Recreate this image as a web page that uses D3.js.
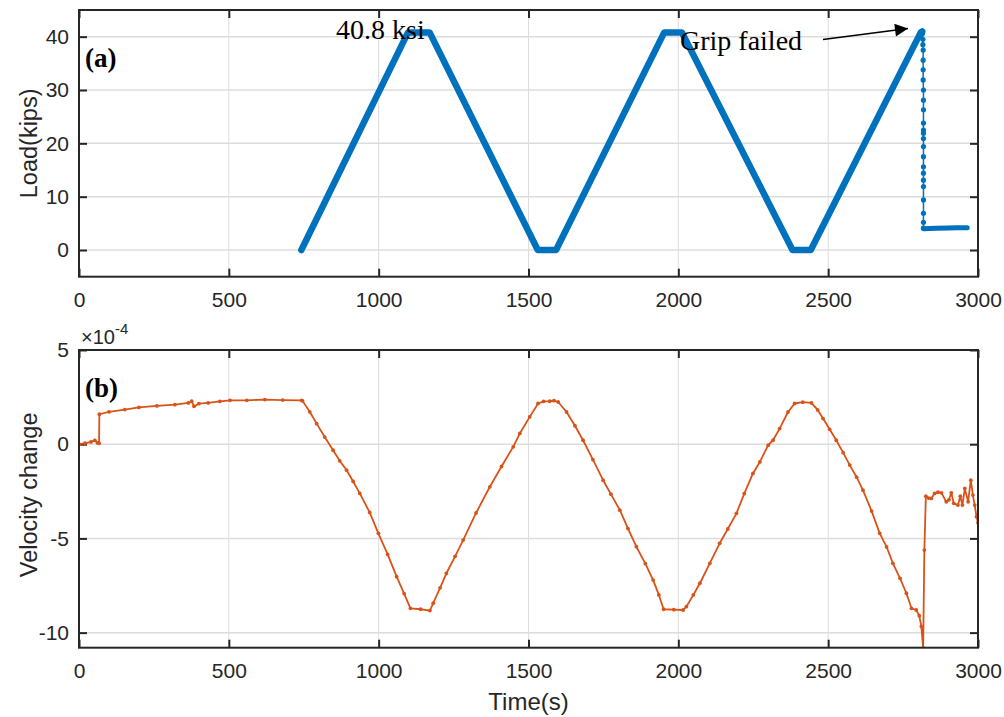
<!DOCTYPE html>
<html>
<head>
<meta charset="utf-8">
<script src="https://cdn.jsdelivr.net/npm/d3@7"></script>
<style>
  body { margin: 0; background: #fff; }
  svg text { fill: #262626; }
  .tick text { font-family: "Liberation Sans", Arial, sans-serif; font-size: 21px; fill: #262626; }
</style>
</head>
<body>
<div id="wrapper"></div>
<script>
// (a) load record: ramp part, the vertical drop at grip failure, and the tail
const loadTime  = [742, 1098, 1170, 1531, 1592, 1953, 2012, 2381, 2442, 2809, 2814]
const loadKips  = [0, 40.8, 40.8, 0, 0, 40.8, 40.8, 0, 0, 40.8, 41.0]
const dropTime  = [2815, 2816, 2816, 2817, 2817, 2817, 2817, 2818, 2818, 2818, 2818, 2818, 2818, 2818, 2818, 2818, 2818, 2818, 2818, 2818, 2818, 2818, 2818, 2818]
const dropKips  = [40.6, 39.5, 38.5, 37.5, 35.6, 33.8, 31.9, 30.0, 28.1, 26.3, 23.8, 22.5, 21.9, 20.9, 19.4, 17.5, 15.6, 14.4, 13.1, 11.9, 9.4, 6.9, 5.2, 4.1]
const tailTime  = [2818, 2860, 2900, 2930, 2964]
const tailKips  = [4.0, 4.1, 4.15, 4.2, 4.2]

// (b) velocity change, x 1e-4
const velTime = [0, 20, 40, 53, 62, 67, 68, 100, 153, 200, 260, 320, 365, 376, 384, 400, 431, 470, 504, 560, 620, 680, 743,
  746, 770, 793, 820, 848, 870, 893, 915, 937, 970, 999, 1030, 1060, 1085, 1106, 1140, 1171, 1182, 1205, 1226, 1255, 1282, 1325, 1371, 1410, 1449, 1471, 1504,
  1532, 1550, 1571, 1585, 1599, 1627, 1655, 1682, 1715, 1749, 1775, 1805, 1832, 1860, 1890, 1916, 1935, 1951, 1985, 2016, 2027, 2050, 2072, 2105, 2138, 2165, 2194, 2220, 2249, 2272, 2300,
  2316, 2338, 2366, 2388, 2415, 2444, 2465, 2483, 2505, 2527, 2550, 2572, 2595, 2616, 2645, 2672, 2695, 2716, 2740, 2761, 2778, 2794, 2804, 2811, 2817,
  2821, 2826, 2835, 2844, 2855, 2866, 2878, 2894, 2903, 2911, 2919, 2933, 2941, 2948, 2956, 2967, 2976, 2983, 2989, 2995, 3000]
const velChange = [0, 0.05, 0.12, 0.2, 0.07, 0.05, 1.59, 1.72, 1.84, 1.95, 2.03, 2.1, 2.19, 2.28, 2.01, 2.15, 2.19, 2.27, 2.33, 2.33, 2.37, 2.34, 2.33,
  2.30, 1.72, 1.09, 0.38, -0.32, -0.88, -1.38, -1.98, -2.61, -3.62, -4.73, -5.85, -7.03, -7.93, -8.71, -8.76, -8.83, -8.44, -7.62, -6.85, -5.95, -5.09, -3.65, -2.26, -1.18, -0.14, 0.57, 1.45,
  2.16, 2.27, 2.28, 2.31, 2.24, 1.71, 0.98, 0.21, -0.82, -1.91, -2.65, -3.50, -4.48, -5.44, -6.34, -7.21, -8.0, -8.76, -8.78, -8.80, -8.62, -8.0, -7.38, -6.32, -5.26, -4.5, -3.67, -2.62, -1.55, -0.94, -0.05,
  0.21, 0.83, 1.71, 2.16, 2.23, 2.19, 1.82, 1.36, 0.79, 0.21, -0.45, -1.11, -1.75, -2.44, -3.55, -4.73, -5.45, -6.32, -7.12, -7.91, -8.71, -8.80, -9.1, -9.68, -10.83,
  -5.62, -2.76, -2.86, -2.88, -2.61, -2.55, -2.58, -3.06, -2.95, -2.58, -3.14, -3.23, -2.76, -3.23, -2.35, -3.06, -1.91, -2.70, -3.23, -3.85, -4.17]

const xTicks = [0, 500, 1000, 1500, 2000, 2500, 3000]
const loadTicks = [0, 10, 20, 30, 40]
const velTicks = [-10, -5, 0, 5]

const blue = "#0072BD"
const orange = "#D95319"
const ink = "#262626"

const width = 1004, height = 717
const margin = {left: 79, right: 1004 - 978}

const svg = d3.select("#wrapper").append("svg")
  .attr("width", width)
  .attr("height", height)

const x = d3.scaleLinear().domain([0, 3000]).range([margin.left, width - margin.right])
const plain = d => String(d)

function panel(top, bottom, yDomain, yTicks, id) {
  const y = d3.scaleLinear().domain(yDomain).range([bottom, top])
  const g = svg.append("g")

  g.append("clipPath").attr("id", id)
    .append("rect")
    .attr("x", x.range()[0]).attr("y", top)
    .attr("width", x.range()[1] - x.range()[0]).attr("height", bottom - top)

  // grid
  g.append("g").selectAll("line").data(xTicks).join("line")
    .attr("x1", d => x(d)).attr("x2", d => x(d))
    .attr("y1", top).attr("y2", bottom)
    .attr("stroke", "#dcdcdc").attr("stroke-width", 1)
  g.append("g").selectAll("line").data(yTicks).join("line")
    .attr("x1", x.range()[0]).attr("x2", x.range()[1])
    .attr("y1", d => y(d)).attr("y2", d => y(d))
    .attr("stroke", "#dcdcdc").attr("stroke-width", 1.5)

  const axisStyle = sel => {
    sel.select(".domain").remove()
    sel.selectAll(".tick line").attr("stroke", ink).attr("stroke-width", 2)
  }

  g.append("g").attr("transform", `translate(0,${bottom})`)
    .call(d3.axisBottom(x).tickValues(xTicks).tickSize(-8).tickPadding(15).tickFormat(plain))
    .call(axisStyle)
  g.append("g").attr("transform", `translate(0,${top})`)
    .call(d3.axisTop(x).tickValues(xTicks).tickSize(-8).tickFormat(""))
    .call(axisStyle)
  g.append("g").attr("transform", `translate(${x.range()[0]},0)`)
    .call(d3.axisLeft(y).tickValues(yTicks).tickSize(-8).tickPadding(10).tickFormat(plain))
    .call(axisStyle)
  g.append("g").attr("transform", `translate(${x.range()[1]},0)`)
    .call(d3.axisRight(y).tickValues(yTicks).tickSize(-8).tickFormat(""))
    .call(axisStyle)

  return {g, y, top, bottom}
}

// ---- panel (a)
const pa = panel(10, 276.7, [-5, 45], loadTicks, "clipA")
const plotA = pa.g.append("g").attr("clip-path", "url(#clipA)")

const lineA = d3.line().x(d => x(d[0])).y(d => pa.y(d[1]))

plotA.append("path")
  .datum(d3.zip(loadTime, loadKips))
  .attr("d", lineA)
  .attr("fill", "none").attr("stroke", blue)
  .attr("stroke-width", 6.5).attr("stroke-linejoin", "round").attr("stroke-linecap", "round")

plotA.append("path")
  .datum(d3.zip(dropTime, dropKips))
  .attr("d", lineA)
  .attr("fill", "none").attr("stroke", blue).attr("stroke-width", 1.5)

plotA.selectAll(".drop").data(d3.zip(dropTime, dropKips)).join("circle")
  .attr("class", "drop")
  .attr("cx", d => x(d[0])).attr("cy", d => pa.y(d[1]))
  .attr("r", 2.6).attr("fill", blue)

plotA.append("path")
  .datum(d3.zip(tailTime, tailKips))
  .attr("d", lineA)
  .attr("fill", "none").attr("stroke", blue)
  .attr("stroke-width", 5).attr("stroke-linecap", "round")

// box
pa.g.append("rect")
  .attr("x", x.range()[0]).attr("y", pa.top)
  .attr("width", x.range()[1] - x.range()[0]).attr("height", pa.bottom - pa.top)
  .attr("fill", "none").attr("stroke", ink).attr("stroke-width", 2)

svg.append("text")
  .attr("transform", `translate(37,${(pa.top + pa.bottom) / 2}) rotate(-90)`)
  .attr("text-anchor", "middle")
  .style("font-family", "'Liberation Sans', Arial, sans-serif").style("font-size", "23.5px")
  .text("Load(kips)")

svg.append("text")
  .attr("x", 85).attr("y", 67)
  .style("font-family", "'Liberation Serif', 'Times New Roman', serif")
  .style("font-size", "27px").style("font-weight", "bold").style("fill", "#000")
  .text("(a)")

svg.append("text")
  .attr("x", 336).attr("y", 39)
  .style("font-family", "'Liberation Serif', 'Times New Roman', serif")
  .style("font-size", "28px").style("fill", "#000")
  .text("40.8 ksi")

svg.append("text")
  .attr("x", 680).attr("y", 50)
  .style("font-family", "'Liberation Serif', 'Times New Roman', serif")
  .style("font-size", "28px").style("fill", "#000")
  .text("Grip failed")

svg.append("defs").append("marker")
  .attr("id", "arrowhead")
  .attr("viewBox", "0 0 10 10").attr("refX", 10).attr("refY", 5)
  .attr("markerWidth", 18).attr("markerHeight", 13).attr("markerUnits", "userSpaceOnUse")
  .attr("orient", "auto")
  .append("path").attr("d", "M0,0 L10,5 L0,10 Z").attr("fill", "#000")

svg.append("line")
  .attr("x1", 823).attr("y1", 39.5).attr("x2", 908).attr("y2", 28.5)
  .attr("stroke", "#000").attr("stroke-width", 1.6)
  .attr("marker-end", "url(#arrowhead)")

// ---- panel (b)
const pb = panel(350, 647.7, [-10.8, 5], velTicks, "clipB")
const plotB = pb.g.append("g").attr("clip-path", "url(#clipB)")
const velData = d3.zip(velTime, velChange)

plotB.append("path")
  .datum(velData)
  .attr("d", d3.line().x(d => x(d[0])).y(d => pb.y(d[1])))
  .attr("fill", "none").attr("stroke", orange).attr("stroke-width", 1.8)
  .attr("stroke-linejoin", "round")

plotB.selectAll(".vdot").data(velData).join("circle")
  .attr("class", "vdot")
  .attr("cx", d => x(d[0])).attr("cy", d => pb.y(d[1]))
  .attr("r", 1.9).attr("fill", orange)

pb.g.append("rect")
  .attr("x", x.range()[0]).attr("y", pb.top)
  .attr("width", x.range()[1] - x.range()[0]).attr("height", pb.bottom - pb.top)
  .attr("fill", "none").attr("stroke", ink).attr("stroke-width", 2)

svg.append("text")
  .attr("transform", `translate(37,${(pb.top + pb.bottom) / 2 - 4}) rotate(-90)`)
  .attr("text-anchor", "middle")
  .style("font-family", "'Liberation Sans', Arial, sans-serif").style("font-size", "23.5px")
  .text("Velocity change")

svg.append("text")
  .attr("x", x(1500)).attr("y", 710)
  .attr("text-anchor", "middle")
  .style("font-family", "'Liberation Sans', Arial, sans-serif").style("font-size", "24px")
  .text("Time(s)")

const expo = svg.append("text")
  .attr("x", 81).attr("y", 344)
  .style("font-family", "'Liberation Sans', Arial, sans-serif").style("font-size", "20px")
expo.append("tspan").text("\u00d710")
expo.append("tspan").attr("dy", -10).style("font-size", "15px").text("-4")

svg.append("text")
  .attr("x", 85).attr("y", 397)
  .style("font-family", "'Liberation Serif', 'Times New Roman', serif")
  .style("font-size", "27px").style("font-weight", "bold").style("fill", "#000")
  .text("(b)")
</script>
</body>
</html>
